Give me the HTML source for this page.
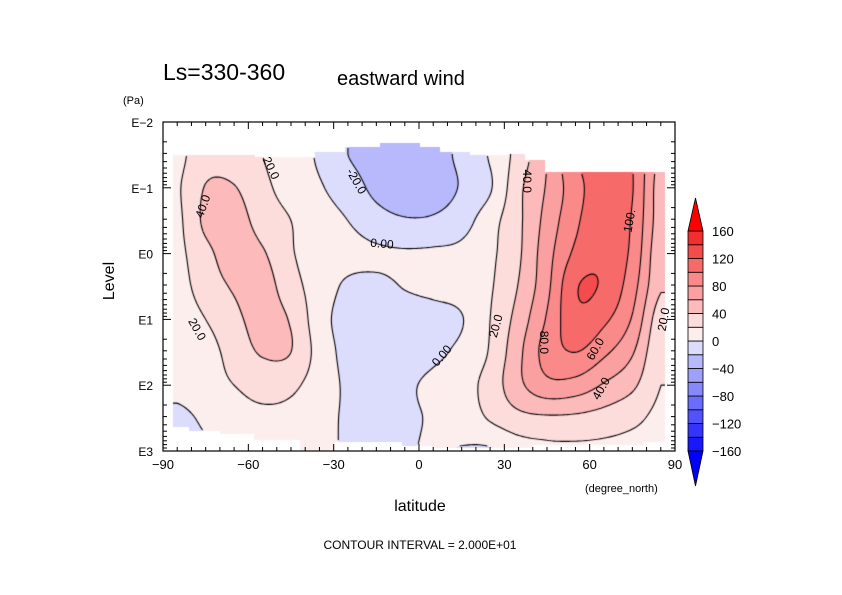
<!DOCTYPE html>
<html><head><meta charset="utf-8">
<style>
body{margin:0;background:#fff;}
#wrap{position:relative;width:842px;height:595px;overflow:hidden;background:#fff;font-family:"Liberation Sans",sans-serif;}
#cv{position:absolute;left:0;top:0;}
#ov{position:absolute;left:0;top:0;}
</style></head>
<body>
<div id="wrap">
<canvas id="cv" width="842" height="595"></canvas>
<svg id="ov" width="842" height="595" font-family="Liberation Sans, sans-serif">
  <text x="163" y="80" font-size="23">Ls=330-360</text>
  <text x="337" y="85" font-size="20">eastward wind</text>
  <text x="123" y="104" font-size="11">(Pa)</text>
  <text x="420" y="511" font-size="16" text-anchor="middle">latitude</text>
  <text x="114" y="281" font-size="16" text-anchor="middle" transform="rotate(-90 114 281)">Level</text>
  <text x="585" y="492" font-size="11">(degree_north)</text>
  <text x="420" y="549" font-size="12" text-anchor="middle">CONTOUR INTERVAL = 2.000E+01</text>
  <g id="axes"></g>
  <g id="clabels" font-size="12"></g>
  <g id="cbar"></g>
</svg>
</div>
<script>
// ---- data ----
const lats = [-85,-75,-65,-55,-45,-35,-25,-15,-5,5,15,25,35,45,55,65,75,85];
const levelsLog = [-1.5,-1,-0.5,0,0.5,1,1.5,2,2.5,3];
const rowM15 = [15,32,30,20,10,-3,-20,-28,-30,-28,-15,2,28,60,100,108,100,55];
const rowM10 = [18,41,41,25,12,2,-10,-25,-32,-30,-18,-2,35,62,92,112,101,50];
const rowM05 = [16,44,48,32,20,8,0,-12,-18,-17,-8,12,36,67,96,115,98,50];
const row00 = [15,35,48,42,22,10,6,3,2,3,5,16,37,72,104,116,95,45];
const row05 = [12,30,42,48,28,10,-3,-5,1,5,8,18,41,75,118,117,88,42];
const row10 = [8,20,35,47,38,8,-8,-18,-12,-8,-1,20,48,82,114,104,78,28];
const row15 = [5,12,28,42,40,12,-6,-10,-8,-4,5,22,55,88,100,84,62,22];
const row20 = [5,12,20,26,24,10,-3,-8,-3,4,12,28,55,74,72,58,44,20];
const row25 = [-4,3,12,16,14,5,-2,-6,-3,2,8,22,34,37,36,32,25,15];
const row30 = [-4,-2,1,6,5,2,-1,-4,-2,2,-1,-2,10,15,16,15,13,10];
const grid = [rowM15,rowM10,rowM05,row00,row05,row10,row15,row20,row25,row30];
// valid-data region (lat band edges, top / bottom log-pressure)
const maskLatEdges = [-86.5,-57.7,-36.6,-26,-13.7,0.4,7.4,18,31.3,37.3,44.3,86.5];
const maskTop = [-1.498,-1.468,-1.544,-1.62,-1.68,-1.62,-1.544,-1.498,-1.52,-1.42,-1.24];
const maskBotEdges = [-86.5,-81,-70,-58,-42,-29.5,-6,4.5,40,79,86.5];
const maskBot = [2.635,2.696,2.74,2.84,3.0,2.86,2.92,2.95,2.909,2.86];
const contourLevels = [-20,0,20,40,60,80,100,120];
const binEdges = [-160,-140,-120,-100,-80,-60,-40,-20,0,20,40,60,80,100,120,140,160];
const binColors = ["#1818fc","#3434fc","#5252fc","#6c6cfc","#8888fc","#a0a0fc","#b8b8fc","#dcdcfc",
                   "#fdeeee","#fddcdc","#fcbaba","#fba0a0","#fa8a8a","#f76a6a","#f44c4c","#f22e2e"];
const colorBelow = "#0000ff", colorAbove = "#ff0000";
const cbTicks = [160,120,80,40,0,-40,-80,-120,-160];
const xTicks = [-90,-60,-30,0,30,60,90];
const yTicks = [-2,-1,0,1,2,3];
const yTickLabels = ["E-2","E-1","E0","E1","E2","E3"];
const contourLabels = [
 {t:"20.0",lat:-52,L:-1.3,r:65},{t:"40.0",lat:-76,L:-0.72,r:-70},{t:"20.0",lat:-78,L:1.15,r:60},
 {t:"-20.0",lat:-22,L:-1.1,r:60},{t:"0.00",lat:-13,L:-0.15,r:5},{t:"0.00",lat:8,L:1.55,r:-50},
 {t:"20.0",lat:27,L:1.1,r:-75},{t:"40.0",lat:38,L:-1.1,r:90},{t:"100.",lat:74,L:-0.5,r:-80},
 {t:"80.0",lat:44,L:1.35,r:90},{t:"60.0",lat:62,L:1.45,r:-60},{t:"40.0",lat:64,L:2.05,r:-60},
 {t:"20.0",lat:86,L:1.0,r:-80}
];
// ---- axes ----
const X0=163,X1=675,Y0=122,Y1=451;
function xS(lat){return X0+(lat+90)*(X1-X0)/180;}
function yS(L){return Y0+(L+2)*(Y1-Y0)/5;}
function cr(p0,p1,p2,p3,t){return p1+0.5*t*(p2-p0+t*(2*p0-5*p1+4*p2-p3+t*(3*(p1-p2)+p3-p0)));}
function g(j,i){j=Math.max(0,Math.min(levelsLog.length-1,j));i=Math.max(0,Math.min(lats.length-1,i));return grid[j][i];}
function val(lat,L){
  let fi=(lat-lats[0])/10, fj=(L-levelsLog[0])/0.5;
  fi=Math.max(0,Math.min(lats.length-1,fi)); fj=Math.max(0,Math.min(levelsLog.length-1,fj));
  let i=Math.min(Math.floor(fi),lats.length-2), j=Math.min(Math.floor(fj),levelsLog.length-2);
  let ti=fi-i, tj=fj-j, r=[];
  for(let k=-1;k<=2;k++) r.push(cr(g(j+k,i-1),g(j+k,i),g(j+k,i+1),g(j+k,i+2),ti));
  return cr(r[0],r[1],r[2],r[3],tj);
}
function band(edges,arr,lat){for(let k=0;k<arr.length;k++) if(lat>=edges[k]&&lat<edges[k+1]) return arr[k]; return null;}
function valid(lat,L){const t=band(maskLatEdges,maskTop,lat), b=band(maskBotEdges,maskBot,lat); return t!==null&&b!==null&&L>=t&&L<=b;}
function colorOf(v){if(v<binEdges[0])return colorBelow; for(let k=0;k<binColors.length;k++) if(v<binEdges[k+1]) return binColors[k]; return colorAbove;}
function hex(c){return [parseInt(c.substr(1,2),16),parseInt(c.substr(3,2),16),parseInt(c.substr(5,2),16)];}
const ctx=document.getElementById('cv').getContext('2d');
ctx.fillStyle="#fff";ctx.fillRect(0,0,842,595);
const W=X1-X0,H=Y1-Y0;
const img=ctx.getImageData(X0,Y0,W,H);
for(let py=0;py<H;py++)for(let px=0;px<W;px++){
  const lat=(px+0.5)/W*180-90, L=(py+0.5)/H*5-2;
  if(!valid(lat,L)) continue;
  const c=hex(colorOf(val(lat,L))); const o=(py*W+px)*4;
  img.data[o]=c[0];img.data[o+1]=c[1];img.data[o+2]=c[2];img.data[o+3]=255;
}
ctx.putImageData(img,X0,Y0);
// contours (marching squares)
const S=2, nx=Math.floor(W/S)+1, ny=Math.floor(H/S)+1, F=[];
for(let j=0;j<ny;j++){F.push([]);for(let i=0;i<nx;i++){const lat=i*S/W*180-90,L=j*S/H*5-2;F[j].push(valid(lat,L)?val(lat,L):NaN);}}
ctx.strokeStyle="#000";ctx.lineWidth=1.1;ctx.beginPath();
for(const lv of contourLevels){
  for(let j=0;j<ny-1;j++)for(let i=0;i<nx-1;i++){
    const c=[[i,j,F[j][i]],[i+1,j,F[j][i+1]],[i+1,j+1,F[j+1][i+1]],[i,j+1,F[j+1][i]]];
    if(c.some(q=>isNaN(q[2])))continue;
    const pts=[];
    for(let e=0;e<4;e++){const a=c[e],b=c[(e+1)%4];
      if((a[2]<lv)!==(b[2]<lv)){const t=(lv-a[2])/(b[2]-a[2]);pts.push([X0+(a[0]+t*(b[0]-a[0]))*S,Y0+(a[1]+t*(b[1]-a[1]))*S]);}}
    for(let k=0;k+1<pts.length;k+=2){ctx.moveTo(pts[k][0],pts[k][1]);ctx.lineTo(pts[k+1][0],pts[k+1][1]);}
  }
}
ctx.stroke();
// ---- svg overlay ----
const NS="http://www.w3.org/2000/svg";
function el(tag,attrs,parent){const e=document.createElementNS(NS,tag);for(const k in attrs)e.setAttribute(k,attrs[k]);parent.appendChild(e);return e;}
const ax=document.getElementById('axes');
const frame=el('rect',{x:X0,y:Y0,width:W,height:H,fill:'none',stroke:'#000','stroke-width':1.2},ax);


for(let lat=-90;lat<=90;lat+=5){
  const major=lat%30===0,len=major?7:4,x=xS(lat);
  const t1=el('line',{x1:x,y1:Y1,x2:x,y2:Y1-len,stroke:'#000'},ax);
  
  
  const t2=el('line',{x1:x,y1:Y0,x2:x,y2:Y0+len,stroke:'#000'},ax);
  
  
}
xTicks.forEach(v=>{const t=el('text',{x:xS(v),y:Y1+18,'font-size':13,'text-anchor':'middle'},ax);t.textContent=v===0?"0":(v<0?"\u2212"+(-v):String(v));
  
  });
for(let d=-2;d<3;d++)for(let m=1;m<10;m++){
  const L=d+Math.log10(m),y=yS(L),len=m===1?8:4;
  const a=el('line',{x1:X0,y1:y,x2:X0+len,y2:y,stroke:'#000'},ax);
  
  
  const b=el('line',{x1:X1,y1:y,x2:X1-len,y2:y,stroke:'#000'},ax);
  
  
}
yTicks.forEach((v,k)=>{const t=el('text',{x:X0-10,y:yS(v)+5,'font-size':12,'text-anchor':'end'},ax);t.textContent=yTickLabels[k].replace('-','\u2212');
  
  });
// contour labels
const cl=document.getElementById('clabels');
contourLabels.forEach(o=>{const x=xS(o.lat),y=yS(o.L);const t=el('text',{x:x,y:y+4,'text-anchor':'middle',transform:`rotate(${o.r} ${x} ${y})`},cl);t.textContent=o.t;
  
  });
// colorbar
const cb=document.getElementById('cbar');
const CBX=688,CBW=15,CBT=231,CBB=451,nb=binColors.length,bh=(CBB-CBT)/nb;
function cbY(v){return CBB-(v-binEdges[0])/(binEdges[binEdges.length-1]-binEdges[0])*(CBB-CBT);}
binColors.forEach((c,k)=>{const r=el('rect',{x:CBX,y:cbY(binEdges[k+1]),width:CBW,height:bh,fill:c,stroke:'#000','stroke-width':0.8},cb);
  
  });
const up=el('polygon',{points:`${CBX},${CBT} ${CBX+CBW},${CBT} ${CBX+CBW/2},${CBT-33}`,fill:colorAbove,stroke:'#000','stroke-width':0.8},cb);


const dn=el('polygon',{points:`${CBX},${CBB} ${CBX+CBW},${CBB} ${CBX+CBW/2},${CBB+35}`,fill:colorBelow,stroke:'#000','stroke-width':0.8},cb);


cbTicks.forEach(v=>{const t=el('text',{x:712,y:cbY(v)+5,'font-size':13},cb);t.textContent=v<0?"\u2212"+(-v):String(v);
  
  });
</script>
</body></html>
